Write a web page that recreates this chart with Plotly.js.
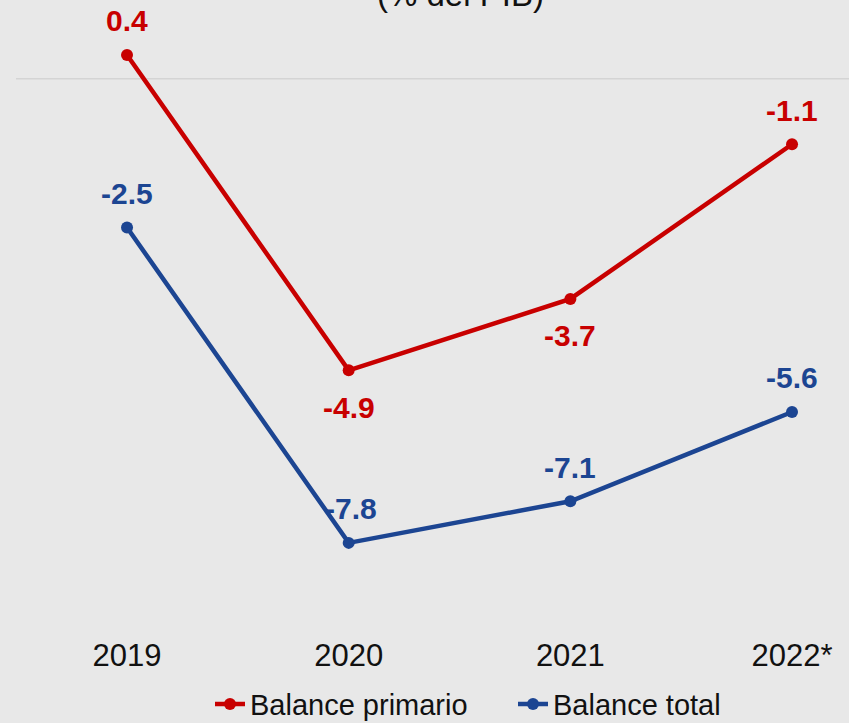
<!DOCTYPE html>
<html>
<head>
<meta charset="utf-8">
<script src="https://cdn.plot.ly/plotly-3.0.1.min.js"></script>
<style>html,body{margin:0;padding:0;background:#e8e8e8;}#chart{width:849px;height:723px;}</style>
</head>
<body>
<div id="chart"></div>
<script>
const years = ["2019", "2020", "2021", "2022*"];
const balancePrimario = [0.4, -4.9, -3.7, -1.1];
const balanceTotal = [-2.5, -7.8, -7.1, -5.6];
const primarioLabelPos = ["above", "below", "below", "above"];
const totalLabelPos = ["above", "above", "above", "above"];
const seriesNames = ["Balance primario", "Balance total"];
const titleText = "(% del PIB)";

const RED = "#c80000";
const BLUE = "#1c4592";
const FONT = "Liberation Sans, Arial, sans-serif";

const traces = [
  {x: years, y: balancePrimario, name: seriesNames[0], type: "scatter", mode: "lines+markers",
   line: {color: RED, width: 4.5}, marker: {color: RED, size: 12}, hoverinfo: "skip"},
  {x: years, y: balanceTotal, name: seriesNames[1], type: "scatter", mode: "lines+markers",
   line: {color: BLUE, width: 4.5}, marker: {color: BLUE, size: 12}, hoverinfo: "skip"}
];

function fmt(v) { return v.toFixed(1); }
const annotations = [];
years.forEach((yr, i) => {
  annotations.push({x: i, y: balancePrimario[i], xref: "x", yref: "y", text: fmt(balancePrimario[i]),
    showarrow: false, yshift: primarioLabelPos[i] === "above" ? 34 : -37,
    font: {family: FONT, size: 30, color: RED, weight: "bold"}});
  annotations.push({x: i, y: balanceTotal[i], xref: "x", yref: "y", text: fmt(balanceTotal[i]),
    showarrow: false, yshift: totalLabelPos[i] === "above" ? 34 : -37, xshift: i === 1 ? 2 : 0,
    font: {family: FONT, size: 30, color: BLUE, weight: "bold"}});
});
annotations.push({x: 0.542, y: 1, xref: "paper", yref: "paper", text: titleText, showarrow: false,
  yanchor: "middle", yshift: 6, font: {family: FONT, size: 33, color: "#111"}});

const layout = {
  width: 849, height: 723,
  margin: {l: 0, r: 0, t: 0, b: 97, autoexpand: false},
  paper_bgcolor: "#e8e8e8", plot_bgcolor: "#e8e8e8",
  showlegend: true,
  legend: {orientation: "h", x: 210/849, xanchor: "left", y: -0.125, yanchor: "middle",
    entrywidth: 258, entrywidthmode: "pixels",
    font: {family: FONT, size: 29, color: "#111"}, bgcolor: "rgba(0,0,0,0)"},
  xaxis: {type: "category", range: [-0.573, 3.257], showgrid: false, zeroline: false, showline: false,
    automargin: false, ticks: "", ticklabelstandoff: 8, tickfont: {family: FONT, size: 31, color: "#111"}, fixedrange: true},
  yaxis: {range: [-9.197, 1.324], visible: false, showgrid: false, zeroline: false, fixedrange: true},
  shapes: [{type: "line", xref: "paper", yref: "y", x0: 16/849, x1: 1, y0: 0, y1: 0,
    line: {color: "#d4d4d4", width: 1.5}, layer: "below"}],
  annotations: annotations
};

Plotly.newPlot("chart", traces, layout, {displayModeBar: false, staticPlot: true});
</script>
</body>
</html>
